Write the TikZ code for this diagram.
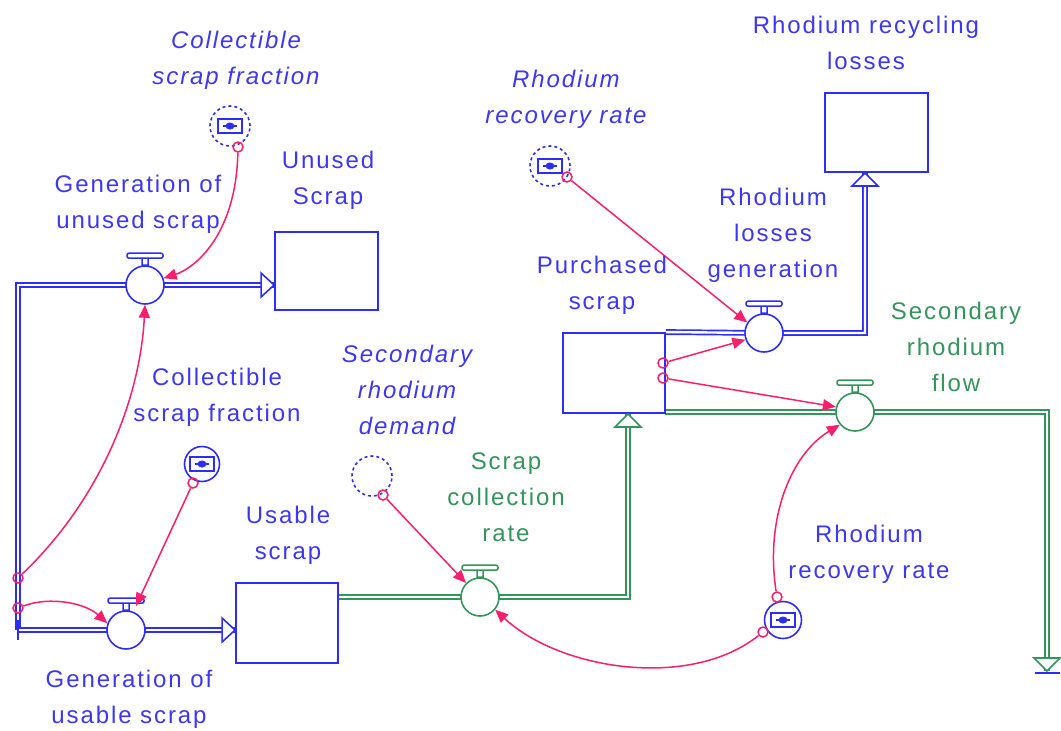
\documentclass[tikz,border=0pt]{standalone}
\usepackage{fontspec}
\setmainfont{Liberation Sans}[LetterSpace=8]
\usetikzlibrary{arrows.meta,backgrounds}

\definecolor{pipeblue}{RGB}{45,45,250}
\definecolor{textblue}{RGB}{60,55,245}
\definecolor{flowgreen}{RGB}{50,150,90}
\definecolor{linkpink}{RGB}{250,30,110}

\tikzset{
  lab/.style={font=\fontsize{24}{36}\selectfont, text=textblue, align=center, inner sep=0pt},
  ilab/.style={lab, font=\fontsize{24}{36}\selectfont\itshape},
  glab/.style={lab, text=flowgreen},
  stock/.style={draw=pipeblue, fill=white, line width=1.9pt, rectangle, inner sep=0pt},
  valve/.style={draw=#1, fill=white, line width=1.6pt, circle, minimum size=38, inner sep=0pt},
  bluepipe/.style={draw=pipeblue, line width=1.7pt, double=white, double distance=2.4pt, line join=miter},
  greenpipe/.style={draw=flowgreen, line width=1.7pt, double=white, double distance=2.4pt, line join=miter},
  headblue/.style={draw=pipeblue, fill=white, line width=1.6pt, line join=miter},
  headgreen/.style={draw=flowgreen, fill=white, line width=1.6pt, line join=miter},
  icon/.style={draw=pipeblue, line width=1.6pt, circle, minimum size=#1, inner sep=0pt},
  iconline/.style={draw=pipeblue, line width=1.6pt},
  orig/.style={draw=linkpink, line width=1.5pt, circle, minimum size=10, inner sep=0pt},
  link/.style={draw=linkpink, line width=1.5pt, -{Triangle[length=13pt,width=11pt]}},
}

% handle drawn on top of a valve
\newcommand\valvehandle[2]{%
  \draw[#2, line width=1.5pt, fill=white, shift={(#1.north)}]
    (-3,0) rectangle (3,-7)
    [rounded corners=2pt] (-18,-7) rectangle (18,-12);}
% constant symbol inside an icon circle
\newcommand\constinner[1]{%
  \draw[iconline, shift={(#1.center)}] (-12,-7) rectangle (12,7) (-7,0) -- (7,0);
  \fill[pipeblue, shift={(#1.center)}] (0,0) ellipse (4.5 and 3.5);}

\begin{document}
\begin{tikzpicture}[x=1pt,y=-1pt]
\useasboundingbox (0,0) rectangle (1061,731);

% ---- stocks
\node[stock, minimum width=103, minimum height=78] (unused) at (326.5,271) {};
\node[stock, minimum width=102, minimum height=80] (usable) at (287,623) {};
\node[stock, minimum width=102, minimum height=80] (purch) at (614,373) {};
\node[stock, minimum width=103, minimum height=79] (losses) at (876.5,132.5) {};

% ---- valves
\node[valve=pipeblue] (vu) at (145,285) {};
\node[valve=pipeblue] (vus) at (126,630) {};
\node[valve=flowgreen] (vsc) at (480,597) {};
\node[valve=pipeblue] (vlg) at (764,333) {};
\node[valve=flowgreen] (vsf) at (855,412) {};
\valvehandle{vu}{pipeblue}
\valvehandle{vus}{pipeblue}
\valvehandle{vsc}{flowgreen}
\valvehandle{vlg}{pipeblue}
\valvehandle{vsf}{flowgreen}

% ---- pipe corners and ends
\coordinate (ltop) at (18,285);
\coordinate (lbot) at (18,630);
\coordinate (jc) at (628,597);
\coordinate (jl) at (865,333);
\coordinate (pse) at (665,412);
\coordinate (jr) at (1047,412);
\coordinate (sink) at (1047,671);

\begin{pgfonlayer}{background}
  \draw[bluepipe] (lbot) -- (ltop) -- (vu.center) -- (unused.west |- vu);
  \draw[bluepipe] (lbot) -- (vus.center) -- (usable.west |- vus);
  \draw[greenpipe] (usable.east |- vsc) -- (vsc.center) -- (jc) -- (jc |- purch.south);
  \draw[bluepipe] (purch.north east) -- (vlg.center) -- (jl) -- (jl |- losses.south);
  \draw[greenpipe] (pse) -- (vsf.center) -- (jr) -- (sink);
\end{pgfonlayer}
\draw[pipeblue, line width=1.8pt] (18,620) -- (18,640);

% ---- hollow flow heads
\draw[headblue] (unused.west |- vu) -- ++(-13,-12) -- ++(0,24) -- cycle;
\draw[headblue] (usable.west |- vus) -- ++(-13,-12) -- ++(0,24) -- cycle;
\draw[headgreen] (jc |- purch.south) -- ++(-13,13) -- ++(26,0) -- cycle;
\draw[headblue] (jl |- losses.south) -- ++(-13,13) -- ++(26,0) -- cycle;
\draw[headgreen] (sink) -- ++(-13,-13) -- ++(26,0) -- cycle;
\draw[pipeblue, line width=1.8pt] (1035,673) -- (1060,673);

% ---- auxiliaries and constants
\node[icon=40, dashed] (ia) at (230,126) {};
\constinner{ia}
\node[icon=35] (ib) at (202,464) {};
\constinner{ib}
\node[icon=40, dashed] (ic) at (372,476) {};
\node[icon=40, dashed] (id) at (550,166) {};
\constinner{id}
\node[icon=37] (ie) at (783,620) {};
\constinner{ie}

% ---- link origins
\node[orig] (oa) at (238,147) {};
\node[orig] (ob) at (18,578) {};
\node[orig] (oc) at (18,608) {};
\node[orig] (od) at (193,483) {};
\node[orig] (oe) at (383,495) {};
\node[orig] (of) at (567,177) {};
\node[orig] (og) at (663,363) {};
\node[orig] (oh) at (663,378) {};
\node[orig] (oi) at (777,597) {};
\node[orig] (oj) at (763,632) {};

% ---- links
\draw[link] (oa) .. controls (236,235) and (195,268) .. (vu.20);
\draw[link] (ob) .. controls (100,500) and (140,400) .. (vu.south);
\draw[link] (oc) .. controls (50,596) and (85,603) .. (vus.160);
\draw[link] (od) -- (136,606);
\draw[link] (oe) -- (vsc.135);
\draw[link] (of) -- (vlg.148);
\draw[link] (og) -- (vlg.200);
\draw[link] (oh) -- (vsf.165);
\draw[link] (oi) .. controls (765,520) and (790,455) .. (vsf.220);
\draw[link] (oj) .. controls (690,690) and (560,670) .. (vsc.-40);

% ---- labels
\node[ilab] (tca) at (236,60) {Collectible\\scrap fraction};
\node[lab] (tgu) at (138,204) {Generation of\\unused scrap};
\node[lab] (tus) at (328,180) {Unused\\Scrap};
\node[ilab] (trr) at (566,99) {Rhodium\\recovery rate};
\node[lab] (tlo) at (866,43) {Rhodium recycling\\losses};
\node[lab] (tlg) at (773,235) {Rhodium\\losses\\generation};
\node[lab] (tps) at (602,285) {Purchased\\scrap};
\node[glab] (tsf) at (956,347) {Secondary\\rhodium\\flow};
\node[lab] (tcb) at (217,397) {Collectible\\scrap fraction};
\node[ilab] (tsd) at (407,390) {Secondary\\rhodium\\demand};
\node[glab] (tsc) at (506,497) {Scrap\\collection\\rate};
\node[lab] (tub) at (288,535) {Usable\\scrap};
\node[lab] (trb) at (869,554) {Rhodium\\recovery rate};
\node[lab] (tgb) at (129,699) {Generation of\\usable scrap};
\end{tikzpicture}
\end{document}
